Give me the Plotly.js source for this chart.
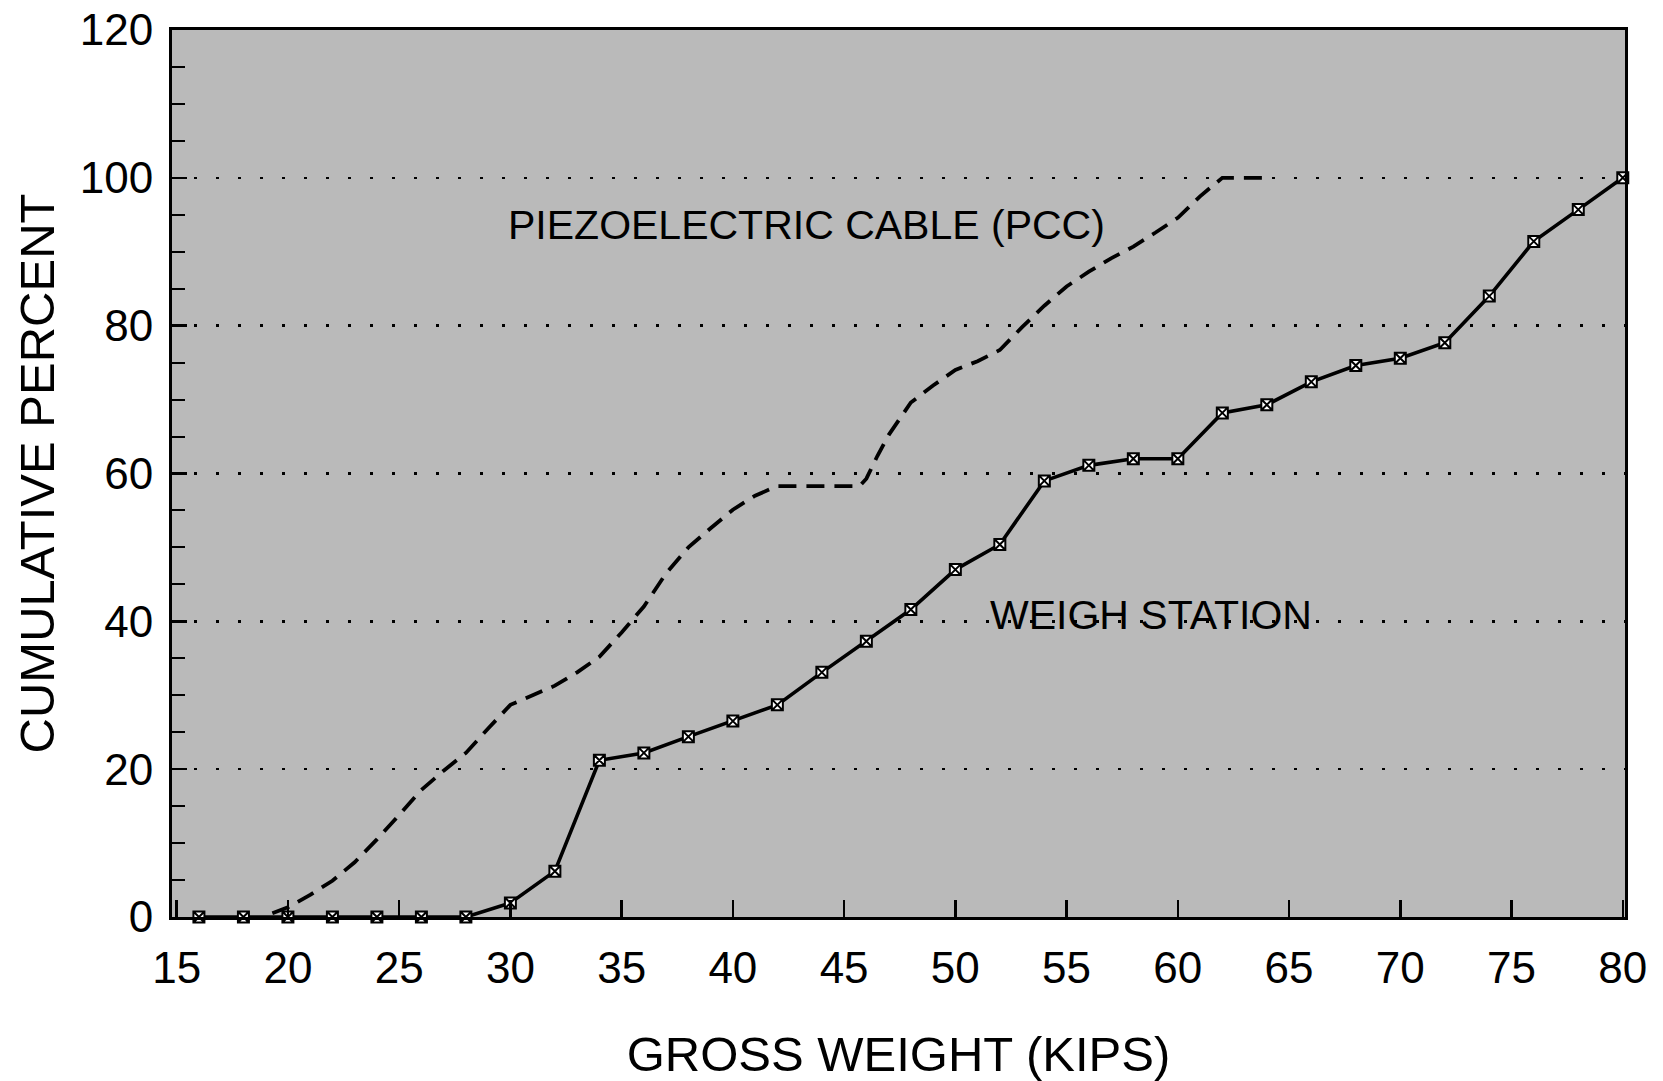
<!DOCTYPE html>
<html>
<head>
<meta charset="utf-8">
<script src="https://cdn.plot.ly/plotly-3.0.1.min.js"></script>
<style>
  html, body { margin: 0; padding: 0; background: #ffffff; }
  #chart { width: 1663px; height: 1081px; }
</style>
</head>
<body>
<div id="chart"></div>
<script>
// ---- Data ----
const weighX = [16, 18, 20, 22, 24, 26, 28, 30, 32, 34, 36, 38, 40, 42, 44, 46, 48,
                50, 52, 54, 56, 58, 60, 62, 64, 66, 68, 70, 72, 74, 76, 78, 80];
const weighY = [0, 0, 0, 0, 0, 0, 0, 1.9, 6.2, 21.2, 22.2, 24.4, 26.5, 28.7, 33.1, 37.3, 41.6,
                47.0, 50.4, 59.0, 61.1, 62.0, 62.0, 68.2, 69.3, 72.4, 74.6, 75.6, 77.7, 84.0, 91.4, 95.7, 100];

const pccX = [19.3, 20, 21, 22, 23, 24, 25, 26, 27, 28, 29, 30, 31, 32, 33, 34, 35, 36, 37, 38,
              39, 40, 41, 42, 43, 44, 45, 45.7, 46, 46.5, 47, 47.5, 48, 49, 50, 51, 52, 53, 54,
              55, 56, 57, 58, 59, 60, 61, 62, 63, 64];
const pccY = [0.5, 1.3, 3.0, 4.9, 7.4, 10.5, 13.8, 17.2, 19.8, 22.2, 25.5, 28.7, 30.0, 31.3, 33.1,
              35.2, 38.5, 42.0, 46.5, 50.0, 52.6, 55.1, 57.0, 58.3, 58.3, 58.3, 58.3, 58.3, 59.3,
              62.4, 65.2, 67.5, 69.6, 71.9, 74.0, 75.2, 76.7, 79.8, 82.7, 85.3, 87.3, 89.1, 90.7,
              92.6, 94.6, 97.5, 100, 100, 100];

const xTickVals = [15, 20, 25, 30, 35, 40, 45, 50, 55, 60, 65, 70, 75, 80];
const yTickVals = [0, 20, 40, 60, 80, 100, 120];

const labels = [
  {text: 'PIEZOELECTRIC CABLE (PCC)', x: 43.3, y: 93.6},
  {text: 'WEIGH STATION', x: 58.8, y: 40.9}
];

const FONT = 'Liberation Sans, Arial, Helvetica, sans-serif';

const traces = [
  {
    x: pccX, y: pccY, type: 'scatter', mode: 'lines', name: 'PCC',
    line: {color: '#000000', width: 3.8, dash: '18px,10px'},
    hoverinfo: 'skip'
  },
  {
    x: weighX, y: weighY, type: 'scatter', mode: 'lines+markers', name: 'Weigh station',
    line: {color: '#000000', width: 3.6},
    marker: {symbol: 'square-x', size: 11, color: '#ffffff', line: {color: '#000000', width: 2}},
    cliponaxis: false
  }
];

const layout = {
  width: 1663, height: 1081,
  margin: {l: 172, r: 38, t: 30, b: 164},
  paper_bgcolor: '#ffffff',
  plot_bgcolor: '#bababa',
  showlegend: false,
  font: {family: FONT, color: '#000000'},
  xaxis: {
    range: [14.79, 80.1],
    tickvals: xTickVals,
    ticktext: xTickVals.map(String),
    ticks: 'inside', ticklen: 17, tickwidth: 2.5, tickcolor: '#000000',
    showgrid: false, zeroline: false,
    showline: true, linecolor: '#000000', linewidth: 3, mirror: true,
    tickfont: {family: FONT, size: 44, color: '#000000'},
    ticklabelstandoff: 10,
    title: {text: 'GROSS WEIGHT (KIPS)', font: {family: FONT, size: 49, color: '#000000'}, standoff: 48}
  },
  yaxis: {
    range: [0, 120],
    tickvals: yTickVals,
    ticktext: yTickVals.map(String),
    ticks: 'inside', ticklen: 15, tickwidth: 2.5, tickcolor: '#000000',
    minor: {dtick: 5, tick0: 0, ticks: 'inside', ticklen: 13, tickwidth: 2, tickcolor: '#000000', showgrid: false},
    showgrid: true, gridcolor: '#000000', gridwidth: 2.5, griddash: '2.5px,19.5px',
    zeroline: false,
    showline: true, linecolor: '#000000', linewidth: 3, mirror: true,
    tickfont: {family: FONT, size: 44, color: '#000000'},
    ticklabelstandoff: 7,
    title: {text: 'CUMULATIVE PERCENT', font: {family: FONT, size: 49, color: '#000000'}, standoff: 10}
  },
  annotations: labels.map(l => ({
    text: l.text, x: l.x, y: l.y, xref: 'x', yref: 'y', showarrow: false,
    font: {family: FONT, size: 41, color: '#000000'}
  }))
};

Plotly.newPlot('chart', traces, layout, {displayModeBar: false, staticPlot: true});
</script>
</body>
</html>
